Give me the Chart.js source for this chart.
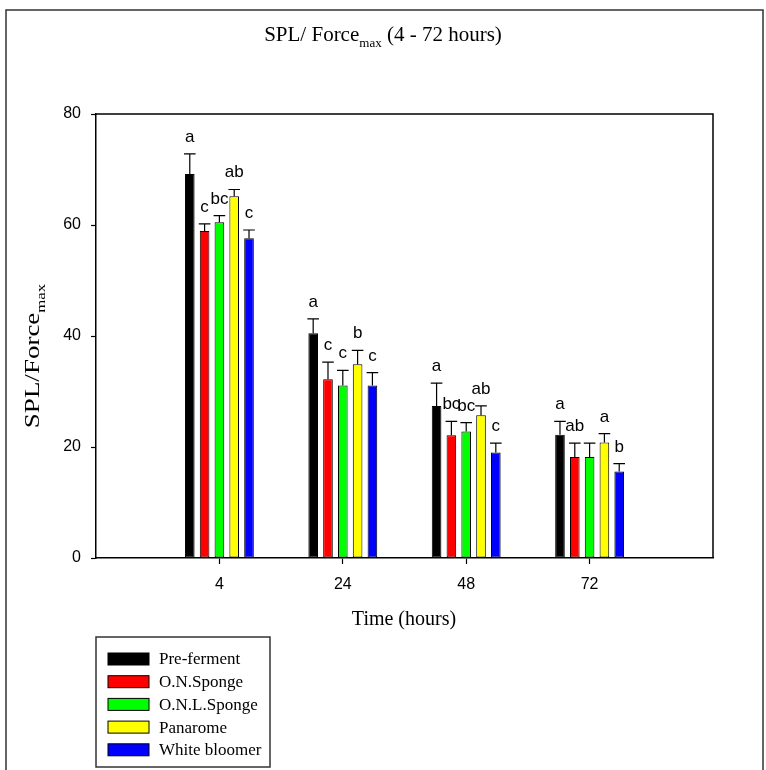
<!DOCTYPE html>
<html>
<head>
<meta charset="utf-8">
<script src="https://cdn.jsdelivr.net/npm/chart.js@4.4.1/dist/chart.umd.min.js"></script>
<style>
html, body { margin: 0; padding: 0; background: #fff; }
#wrap { position: relative; width: 766px; height: 770px; }
</style>
</head>
<body>
<div id="wrap"><canvas id="spl" width="766" height="770"></canvas></div>
<script>
// time points (hours) and bread types
var times = ['4', '24', '48', '72'];
var breads = ['Pre-ferment', 'O.N.Sponge', 'O.N.L.Sponge', 'Panarome', 'White bloomer'];
var colours = ['#000000', '#ff0000', '#00ff00', '#ffff00', '#0000ff'];

// mean SPL/Force max per time point
var preFerment   = [69.2, 40.5, 27.4, 22.2];
var onSponge     = [58.9, 32.2, 22.1, 18.2];
var onlSponge    = [60.5, 31.1, 22.8, 18.2];
var panarome     = [65.2, 34.9, 25.7, 20.8];
var whiteBloomer = [57.6, 31.1, 19.0, 15.6];

// upper error (SE)
var preFermentErr   = [3.6, 2.6, 4.1, 2.4];
var onSpongeErr     = [1.3, 3.1, 2.5, 2.5];
var onlSpongeErr    = [1.2, 2.7, 1.6, 2.5];
var panaromeErr     = [1.2, 2.5, 1.7, 1.6];
var whiteBloomerErr = [1.5, 2.3, 1.7, 1.4];

// significance letters
var preFermentSig   = ['a', 'a', 'a', 'a'];
var onSpongeSig     = ['c', 'c', 'bc', 'ab'];
var onlSpongeSig    = ['bc', 'c', 'bc', ''];
var panaromeSig     = ['ab', 'b', 'ab', 'a'];
var whiteBloomerSig = ['c', 'c', 'c', 'b'];

var yTicks = [0, 20, 40, 60, 80];

var means = [preFerment, onSponge, onlSponge, panarome, whiteBloomer];
var errs = [preFermentErr, onSpongeErr, onlSpongeErr, panaromeErr, whiteBloomerErr];
var sigs = [preFermentSig, onSpongeSig, onlSpongeSig, panaromeSig, whiteBloomerSig];

// empty slot at each end so the groups sit one step in from the frame
function pad(arr) { return [null].concat(arr, [null]); }
var labels = pad(times).map(function (t) { return t === null ? '' : t; });

var datasets = breads.map(function (name, i) {
    return {
        label: name,
        data: pad(means[i]),
        err: pad(errs[i]),
        sig: pad(sigs[i]),
        backgroundColor: colours[i],
        borderColor: '#000',
        borderWidth: 1,
        borderSkipped: false,
        categoryPercentage: 0.6,
        barPercentage: 0.65
    };
});

var SANS = '"Liberation Sans", Arial, sans-serif';
var SERIF = '"Liberation Serif", "Times New Roman", serif';

// text with a subscript part: parts = [[text, isSub], ...]
function partsWidth(ctx, parts, size) {
    var w = 0;
    parts.forEach(function (p) {
        ctx.font = (p[1] ? size * 0.62 : size) + 'px ' + SERIF;
        w += ctx.measureText(p[0]).width;
    });
    return w;
}
function drawParts(ctx, parts, size, x, y) {
    var w = partsWidth(ctx, parts, size);
    var cx = x - w / 2;
    ctx.textAlign = 'left';
    ctx.textBaseline = 'alphabetic';
    parts.forEach(function (p) {
        ctx.font = (p[1] ? size * 0.62 : size) + 'px ' + SERIF;
        ctx.fillText(p[0], cx, p[1] ? y + size * 0.28 : y);
        cx += ctx.measureText(p[0]).width;
    });
}

var decorations = {
    id: 'decorations',
    beforeDraw: function (chart) {
        var ctx = chart.ctx;
        ctx.save();
        ctx.fillStyle = '#fff';
        ctx.fillRect(0, 0, chart.width, chart.height);
        ctx.strokeStyle = '#333';
        ctx.lineWidth = 1.5;
        ctx.strokeRect(6, 10, 757, 800);
        ctx.restore();
    },
    afterDatasetsDraw: function (chart) {
        var ctx = chart.ctx;
        var y = chart.scales.y;
        ctx.save();
        chart.data.datasets.forEach(function (ds, di) {
            var meta = chart.getDatasetMeta(di);
            meta.data.forEach(function (bar, i) {
                var v = ds.data[i];
                if (v === null) return;
                var top = y.getPixelForValue(v + ds.err[i]);
                var half = bar.width / 2 + 1;
                ctx.strokeStyle = '#000';
                ctx.lineWidth = 1.2;
                ctx.beginPath();
                ctx.moveTo(bar.x, bar.y);
                ctx.lineTo(bar.x, top);
                ctx.moveTo(bar.x - half, top);
                ctx.lineTo(bar.x + half, top);
                ctx.stroke();
                if (ds.sig[i]) {
                    ctx.fillStyle = '#000';
                    ctx.font = '17px ' + SANS;
                    ctx.textAlign = 'center';
                    ctx.textBaseline = 'alphabetic';
                    ctx.fillText(ds.sig[i], bar.x, top - 12);
                }
            });
        });
        ctx.restore();
    },
    afterDraw: function (chart) {
        var ctx = chart.ctx;
        var a = chart.chartArea;
        ctx.save();
        // close the plot box
        ctx.strokeStyle = '#000';
        ctx.lineWidth = 1.5;
        ctx.beginPath();
        ctx.moveTo(a.left, a.top);
        ctx.lineTo(a.right, a.top);
        ctx.lineTo(a.right, a.bottom);
        ctx.stroke();

        ctx.fillStyle = '#000';
        drawParts(ctx, [['SPL/ Force', false], ['max', true], [' (4 - 72 hours)', false]], 21, 383, 41);
        drawParts(ctx, [['Time (hours)', false]], 20, 404, 625);
        // y title, stretched along its length
        ctx.save();
        ctx.translate(39, 356);
        ctx.rotate(-Math.PI / 2);
        ctx.scale(1.35, 1);
        drawParts(ctx, [['SPL/Force', false], ['max', true]], 20, 0, 0);
        ctx.restore();

        // legend box
        ctx.strokeStyle = '#333';
        ctx.lineWidth = 1.5;
        ctx.strokeRect(96, 637, 174, 130);
        chart.data.datasets.forEach(function (ds, i) {
            var cy = 659 + i * 22.7;
            ctx.fillStyle = ds.backgroundColor;
            ctx.fillRect(108, cy - 6, 41, 12);
            ctx.strokeStyle = '#000';
            ctx.lineWidth = 1;
            ctx.strokeRect(108, cy - 6, 41, 12);
            ctx.fillStyle = '#000';
            ctx.font = '17px ' + SERIF;
            ctx.textAlign = 'left';
            ctx.textBaseline = 'middle';
            ctx.fillText(ds.label, 159, cy + 1);
        });
        ctx.restore();
    }
};

new Chart(document.getElementById('spl').getContext('2d'), {
    type: 'bar',
    data: { labels: labels, datasets: datasets },
    options: {
        responsive: false,
        animation: false,
        layout: { padding: { left: 0, top: 114, right: 53, bottom: 172 } },
        plugins: {
            legend: { display: false },
            tooltip: { enabled: false },
            title: { display: false }
        },
        scales: {
            x: {
                type: 'category',
                offset: false,
                grid: {
                    offset: false,
                    drawOnChartArea: false,
                    tickLength: 6,
                    tickWidth: 1.2,
                    tickColor: function (c) { return c.tick && c.tick.label === '' ? 'rgba(0,0,0,0)' : '#000'; }
                },
                border: { display: true, color: '#000', width: 1.5 },
                ticks: {
                    autoSkip: false,
                    maxRotation: 0,
                    padding: 11,
                    color: '#000',
                    font: { family: SANS, size: 16 }
                },
                afterFit: function (s) { s.height = 40; }
            },
            y: {
                min: 0,
                max: 80,
                afterBuildTicks: function (s) { s.ticks = yTicks.map(function (v) { return { value: v }; }); },
                grid: { drawOnChartArea: false, tickLength: 5, tickWidth: 1.2, tickColor: '#000' },
                border: { display: true, color: '#000', width: 1.5 },
                ticks: {
                    padding: 10,
                    color: '#000',
                    font: { family: SANS, size: 16 }
                },
                afterFit: function (s) { s.width = 96; }
            }
        }
    },
    plugins: [decorations]
});
</script>
</body>
</html>
